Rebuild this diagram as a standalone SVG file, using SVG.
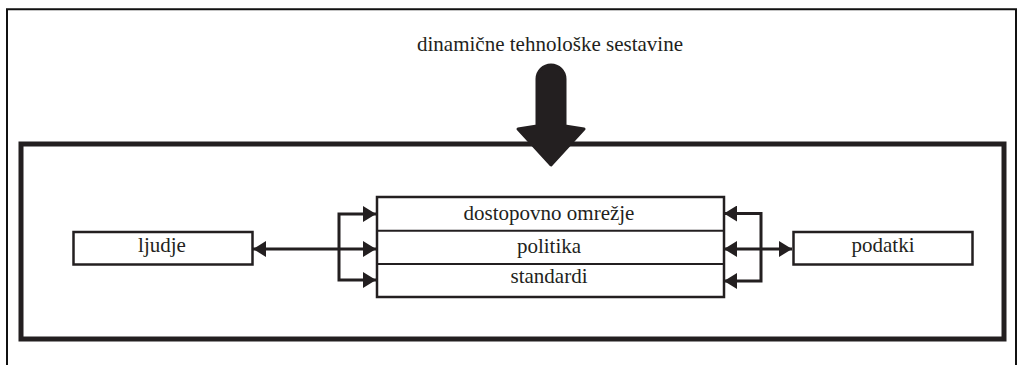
<svg xmlns="http://www.w3.org/2000/svg" width="1017" height="365" viewBox="0 0 1017 365">
  <style>
    .lbl { font-family: "Liberation Serif", "Times New Roman", serif; font-size: 21px; fill: #231f20; text-anchor: middle; }
    .box { fill: #ffffff; stroke: #231f20; stroke-width: 2.5; }
    .row { fill: none; stroke: #231f20; stroke-width: 2; }
    .wire { fill: none; stroke: #231f20; stroke-width: 3; }
    .frame { fill: none; stroke: #231f20; stroke-width: 5; }
    .page { fill: none; stroke: #111111; stroke-width: 2; }
  </style>
  <defs>
    <marker id="head" viewBox="0 0 13 16" refX="13" refY="8" markerWidth="13" markerHeight="16" markerUnits="userSpaceOnUse" orient="auto-start-reverse">
      <path d="M0,0 L13,8 L0,16 Z" fill="#231f20"/>
    </marker>
  </defs>

  <rect width="1017" height="365" fill="#ffffff"/>

  <!-- page border, open at the bottom -->
  <path class="page" d="M7,365 V9.3 H1016 V365"/>

  <!-- outer system frame -->
  <rect id="frame" class="frame" x="21" y="144" width="983" height="195"/>

  <!-- caption and input arrow -->
  <g id="input">
    <text class="lbl" x="550" y="51">dinamične tehnološke sestavine</text>
    <path d="M537,79 A14,14 0 0 1 565,79 V126 L584,129 L551,165 L518,129 L537,126 Z" fill="#231f20" stroke="#231f20" stroke-width="3" stroke-linejoin="round"/>
  </g>

  <g id="ljudje">
    <rect class="box" x="73.5" y="232" width="179" height="32.5"/>
    <text class="lbl" x="162" y="252">ljudje</text>
  </g>

  <g id="podatki">
    <rect class="box" x="793.5" y="232" width="179" height="32.5"/>
    <text class="lbl" x="883" y="252">podatki</text>
  </g>

  <g id="stack">
    <rect class="box" x="377" y="197" width="347" height="100"/>
    <line class="row" x1="377" y1="230.7" x2="724" y2="230.7"/>
    <line class="row" x1="377" y1="264" x2="724" y2="264"/>
    <text class="lbl" x="549" y="219.5">dostopovno omrežje</text>
    <text class="lbl" x="549" y="253">politika</text>
    <text class="lbl" x="549" y="283">standardi</text>
  </g>

  <g id="connectors">
    <!-- left side: ljudje to each row -->
    <line class="wire" x1="253" y1="249" x2="376" y2="249" marker-start="url(#head)" marker-end="url(#head)"/>
    <path class="wire" d="M376,214 H339 V280 H376" marker-start="url(#head)" marker-end="url(#head)"/>
    <!-- right side: podatki to each row -->
    <line class="wire" x1="724" y1="249" x2="792" y2="249" marker-start="url(#head)" marker-end="url(#head)"/>
    <path class="wire" d="M724,213.5 H761 V281 H724" marker-start="url(#head)" marker-end="url(#head)"/>
  </g>
</svg>
